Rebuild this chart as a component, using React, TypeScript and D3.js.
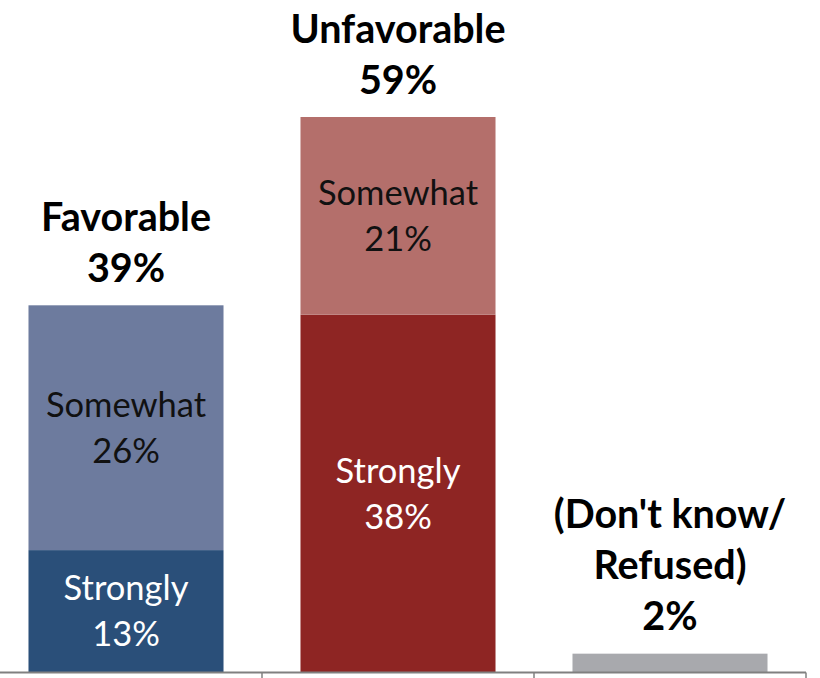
import { scaleBand, scaleLinear } from "d3";

const categories = ["Favorable", "Unfavorable", "Don't know"];
const strongly = [13, 38, 2];
const somewhat = [26, 21, 0];
const totals = [39, 59, 2];
const topLabels = [["Favorable", "39%"], ["Unfavorable", "59%"], ["(Don't know/", "Refused)", "2%"]];

const colors = {
  strongly: ["#2A4F79", "#8E2523", "#A8A9AD"],
  somewhat: ["#6D7B9E", "#B46F6B", "#A8A9AD"],
};

const W = 820;
const H = 678;
const baseY = 672.5;
const font = "Lato, 'Open Sans', sans-serif";

export default function App() {
  const x = scaleBand()
    .domain(categories)
    .range([-10, 806])
    .paddingInner(0.283)
    .paddingOuter(0.1415);

  // 59% reaches y=117
  const y = scaleLinear().domain([0, 59]).range([baseY, 117]);

  const step = x.step();
  const x0 = -10;
  const boundaries = categories.map((_, i) => x0 + step * (i + 1));

  return (
    <svg width={W} height={H} style={{ position: "absolute", left: 0, top: 0, background: "#fff" }}>
      {categories.map((c, i) => {
        const bx = x(c)!;
        const bw = x.bandwidth();
        const cx = bx + bw / 2;
        const s = strongly[i];
        const m = somewhat[i];
        const segs = [
          { key: "Strongly", v0: 0, v1: s, color: colors.strongly[i], textColor: "#fff" },
          { key: "Somewhat", v0: s, v1: s + m, color: colors.somewhat[i], textColor: "#111" },
        ];
        const top = y(totals[i]);
        const lines = topLabels[i];
        return (
          <g key={c}>
            {segs.filter((d) => d.v1 > d.v0).map((d) => (
              <rect key={d.key} x={bx} y={y(d.v1)} width={bw} height={y(d.v0) - y(d.v1)} fill={d.color} />
            ))}
            {i < 2 &&
              segs.map((d) => {
                const my = (y(d.v0) + y(d.v1)) / 2;
                return (
                  <text key={d.key} x={cx} textAnchor="middle" fontFamily={font} fontSize={34.5} fill={d.textColor}>
                    <tspan x={cx} y={my - 23} dy="0.35em">{d.key}</tspan>
                    <tspan x={cx} y={my + 23} dy="0.35em">{d.v1 - d.v0}%</tspan>
                  </text>
                );
              })}
            <text textAnchor="middle" fontFamily={font} fontSize={39.5} fontWeight="bold" fill="#000">
              {lines.map((l, k) => (
                <tspan key={k} x={cx} y={top - 37 - (lines.length - 1 - k) * 51} dy="0.35em">
                  {l}
                </tspan>
              ))}
            </text>
          </g>
        );
      })}
      <line x1={0} x2={806} y1={baseY} y2={baseY} stroke="#808080" strokeWidth={2} />
      {boundaries.map((b, i) => (
        <line key={i} x1={b} x2={b} y1={baseY} y2={H} stroke="#808080" strokeWidth={1.5} />
      ))}
    </svg>
  );
}
